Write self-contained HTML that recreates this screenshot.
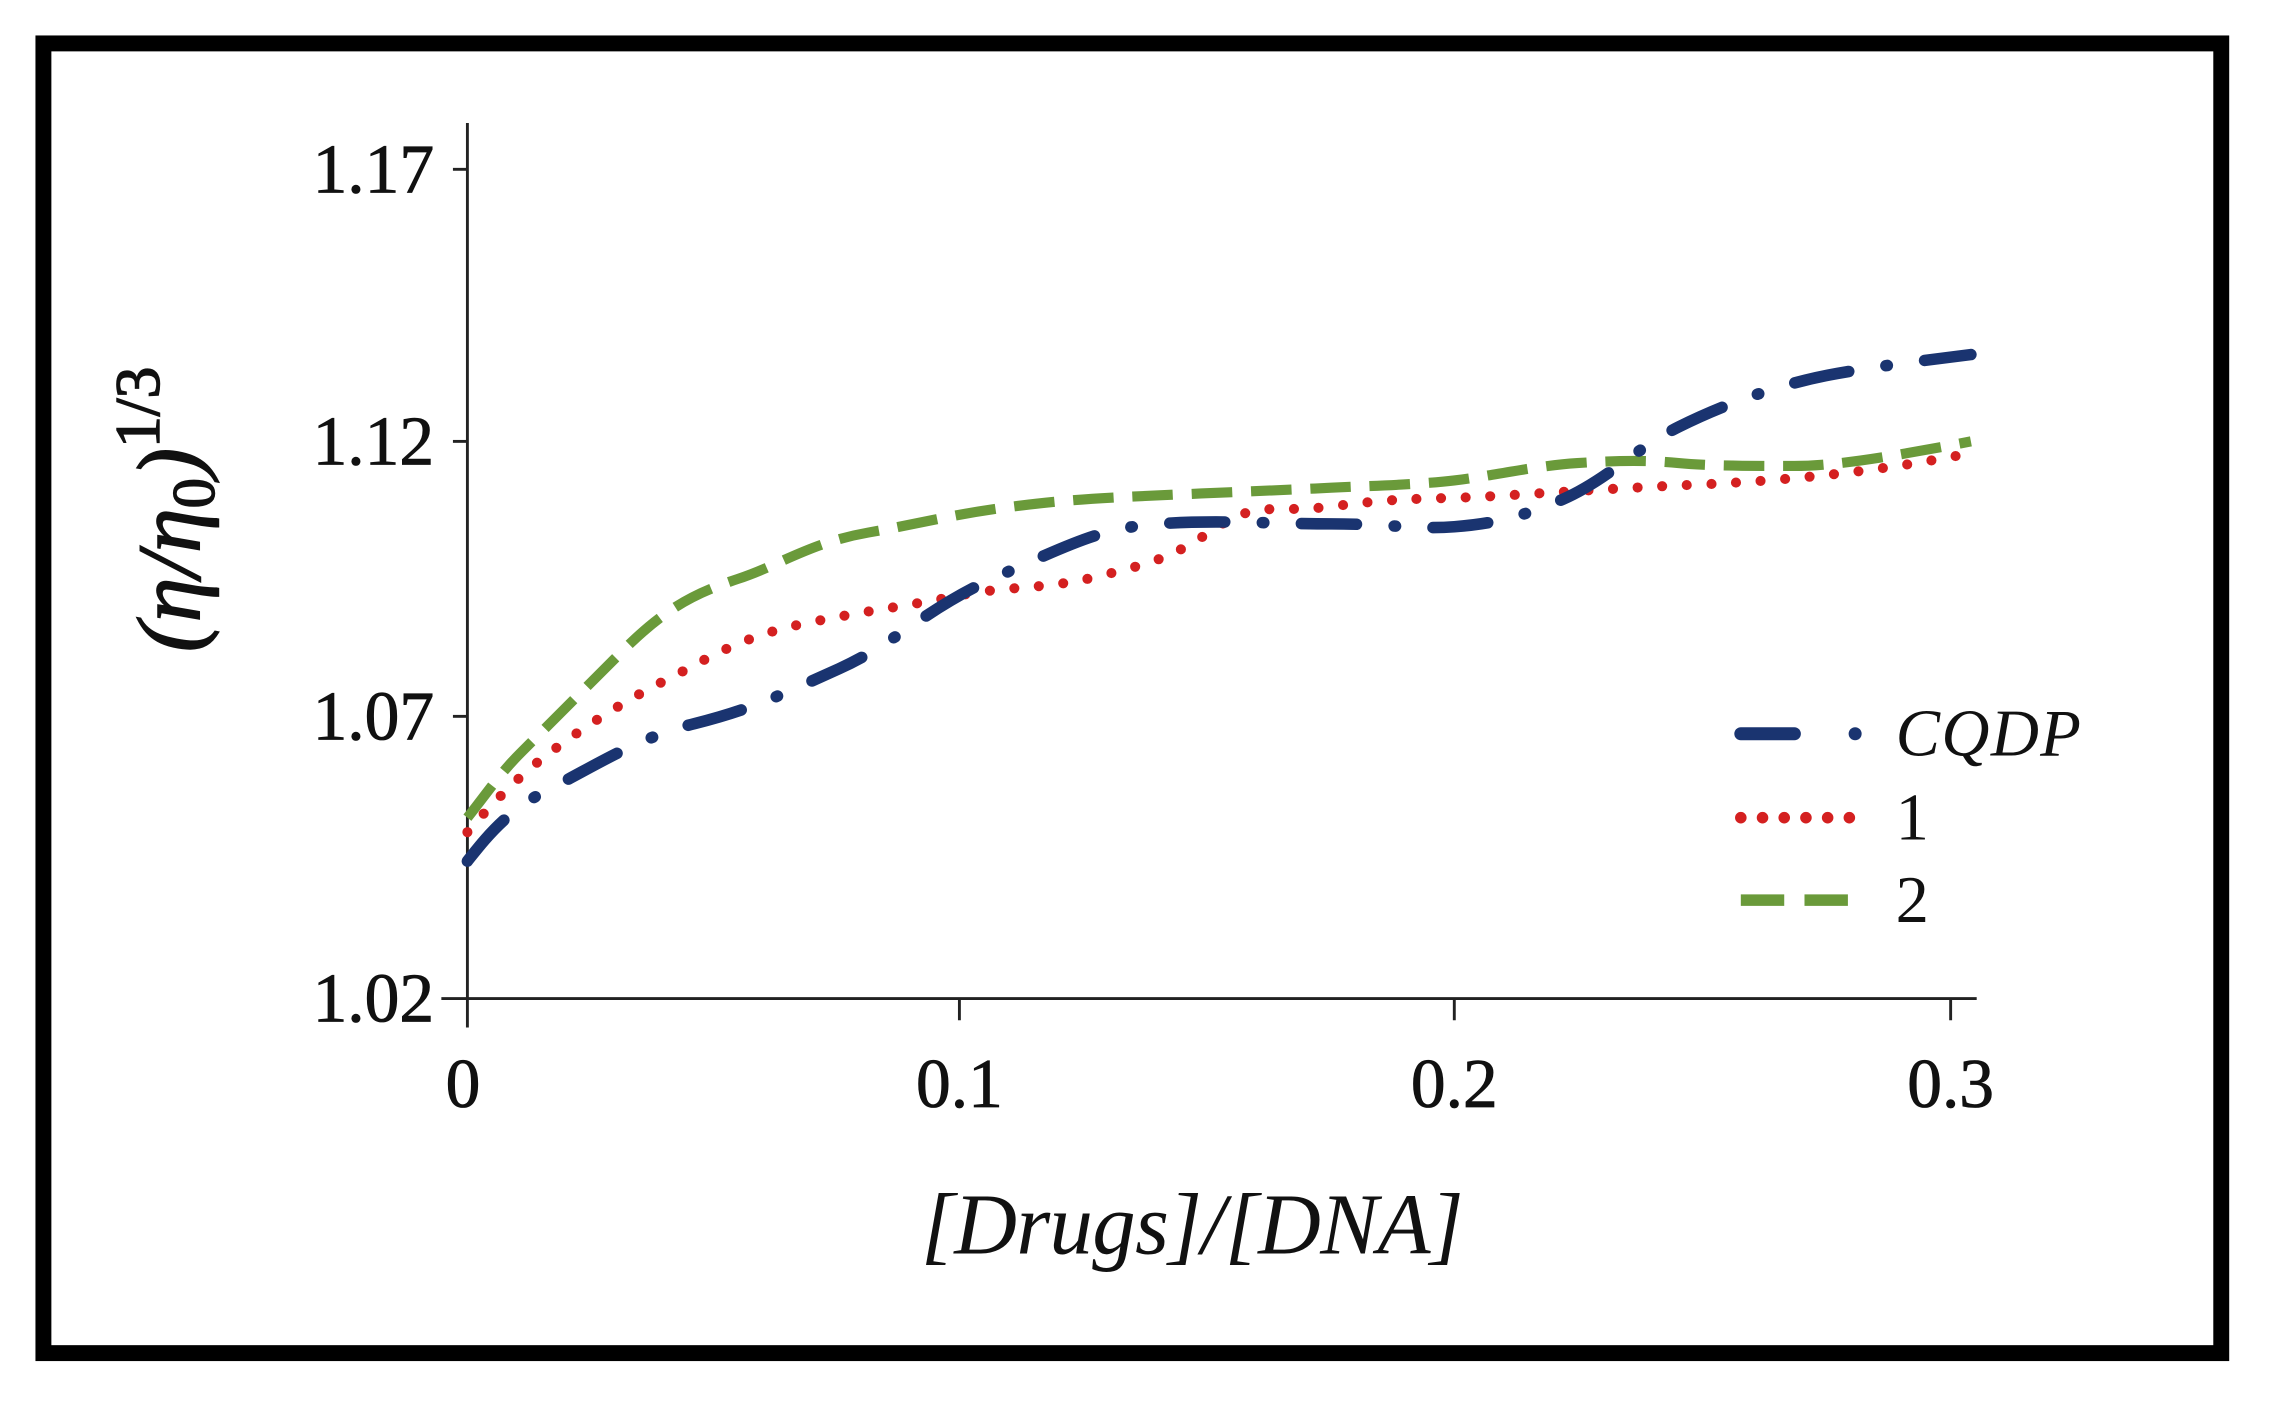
<!DOCTYPE html>
<html><head><style>html,body{margin:0;padding:0;background:#fff}svg{display:block}</style></head>
<body>
<svg width="2269" height="1411" viewBox="0 0 1568 975" preserveAspectRatio="none" xmlns="http://www.w3.org/2000/svg">
<rect x="0" y="0" width="1568" height="975" fill="#fff"/>
<rect x="30" y="30" width="1505" height="905" fill="none" stroke="#000" stroke-width="11"/>
<g stroke="#222" stroke-width="2" fill="none">
<line x1="323" y1="85" x2="323" y2="710"/>
<line x1="305" y1="690" x2="1366" y2="690"/>
<line x1="313" y1="117" x2="323" y2="117"/>
<line x1="313" y1="305" x2="323" y2="305"/>
<line x1="313" y1="495" x2="323" y2="495"/>
<line x1="663" y1="690" x2="663" y2="705"/>
<line x1="1005" y1="690" x2="1005" y2="705"/>
<line x1="1348" y1="690" x2="1348" y2="705"/>
</g>
<g font-family="Liberation Serif, serif" font-size="48" fill="#111" text-anchor="end" stroke="#111" stroke-width="0.6">
<text x="300" y="133">1.17</text>
<text x="300" y="321">1.12</text>
<text x="300" y="511">1.07</text>
<text x="300" y="706">1.02</text>
</g>
<g font-family="Liberation Serif, serif" font-size="48" fill="#111" text-anchor="middle" stroke="#111" stroke-width="0.6">
<text x="320" y="765">0</text>
<text x="663" y="765">0.1</text>
<text x="1005" y="765">0.2</text>
<text x="1348" y="765">0.3</text>
</g>
<text x="824" y="866" font-family="Liberation Serif, serif" font-size="60" font-style="italic" text-anchor="middle" fill="#111" textLength="375">[Drugs]/[DNA]</text>
<text transform="translate(138,352) rotate(-90)" font-family="Liberation Serif, serif" font-size="62" font-style="italic" text-anchor="middle" fill="#111" stroke="#111" stroke-width="1">(η/η<tspan font-size="42" dy="10" font-style="normal">0</tspan><tspan dy="-10">)</tspan><tspan font-size="44" dy="-28" font-style="normal">1/3</tspan></text>
<path d="M323,565 C335,550 345,535 360,520 S400,480 430,450 S480,410 510,400 S560,375 600,368 S660,355 700,350 S760,344 830,341 S900,338 920,337 S980,335 1005,332 S1060,322 1090,320 S1140,318 1160,320 S1210,322 1240,322 S1310,315 1362,305" fill="none" stroke="#6a9a3a" stroke-width="7" stroke-dasharray="28 13"/>
<path d="M323,575 C340,555 360,535 380,520 S430,485 460,470 S510,440 560,430 S620,420 660,412 S720,408 760,398 S810,385 840,365 S880,355 920,350 S970,345 1005,344 S1100,338 1170,335 S1300,325 1352,315" fill="none" stroke="#d42020" stroke-width="7" stroke-linecap="round" stroke-dasharray="0 17"/>
<path d="M323,595 C335,580 350,560 380,545 S440,510 480,500 S540,480 580,462 S640,420 690,398 S760,365 800,362 S880,362 920,362 S980,366 1005,364 S1050,358 1080,345 S1130,310 1160,295 S1230,265 1270,258 S1340,248 1362,245" fill="none" stroke="#1a3470" stroke-width="8" stroke-linecap="round" stroke-dasharray="38 26 1 26"/>
<line x1="1203" y1="507" x2="1240" y2="507" stroke="#1a3470" stroke-width="9" stroke-linecap="round"/>
<circle cx="1282" cy="507" r="4.5" fill="#1a3470"/>
<line x1="1203" y1="565" x2="1280" y2="565" stroke="#d42020" stroke-width="8" stroke-linecap="round" stroke-dasharray="0 15"/>
<line x1="1203" y1="622" x2="1285" y2="622" stroke="#6a9a3a" stroke-width="8" stroke-dasharray="30 14"/>
<g font-family="Liberation Serif, serif" font-size="46" fill="#111">
<text x="1310" y="522" font-style="italic" textLength="128">CQDP</text>
<text x="1310" y="580">1</text>
<text x="1310" y="637">2</text>
</g>
</svg>
</body></html>
